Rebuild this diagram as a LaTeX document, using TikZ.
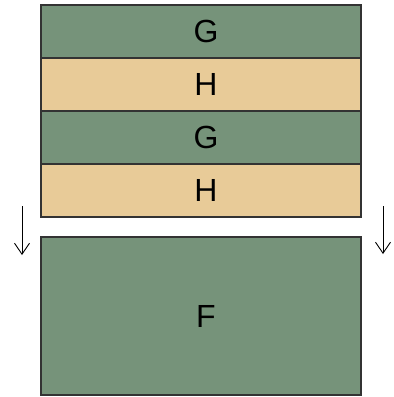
\documentclass[tikz,border=0pt]{standalone}
\usepackage{fontspec}
\setmainfont{Liberation Sans}
\usetikzlibrary{positioning,arrows.meta}

\definecolor{layergreen}{HTML}{76937A}
\definecolor{layertan}{HTML}{E8CB98}
\definecolor{layerline}{HTML}{333333}

\begin{document}
\begin{tikzpicture}[x=1pt,y=-1pt,
  layer/.style={draw=layerline, line width=1.5pt, outer sep=0pt, inner sep=0pt,
    minimum width=320pt, minimum height=53pt, font=\fontsize{32}{32}\selectfont,
    execute at begin node={\hspace*{10pt}}},
  movearrow/.style={-{Straight Barb[length=11pt,width=15pt]}, line width=0.9pt}]
\useasboundingbox (0,0) rectangle (394,397);

\node[layer, fill=layergreen, anchor=north west] (g1) at (41,5) {G};
\node[layer, fill=layertan, below=0pt of g1] (h1) {H};
\node[layer, fill=layergreen, below=0pt of h1] (g2) {G};
\node[layer, fill=layertan, below=0pt of g2] (h2) {H};

\node[layer, fill=layergreen, minimum height=158pt, anchor=north west] (f) at (41,237) {F};

\coordinate (la) at (22,206);
\coordinate (lb) at (22,255);
\coordinate (ra) at (383,206);
\coordinate (rb) at (383,254);
\draw[movearrow] (la) -- (lb);
\draw[movearrow] (ra) -- (rb);
\end{tikzpicture}
\end{document}
